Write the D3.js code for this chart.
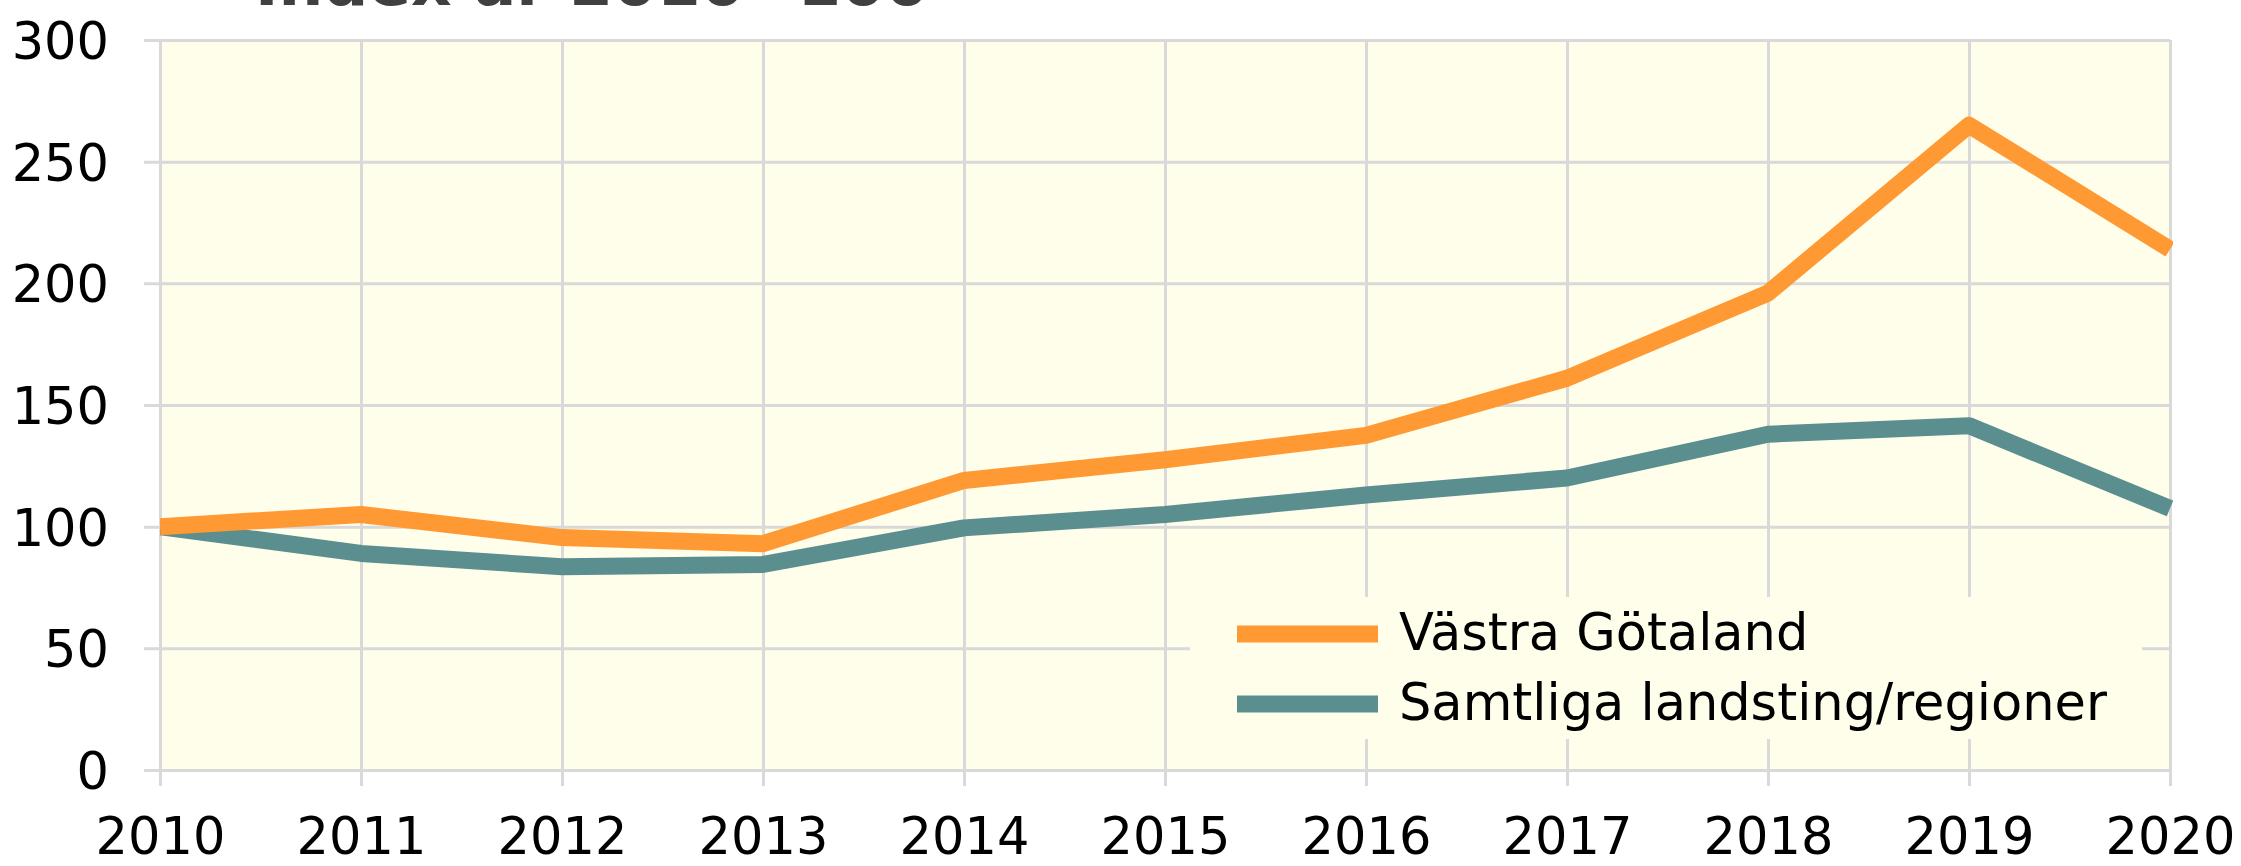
<!DOCTYPE html>
<html lang="sv">
<head>
<meta charset="utf-8">
<script src="https://cdn.jsdelivr.net/npm/d3@7"></script>
<style>
  html, body { margin: 0; padding: 0; background: #ffffff; }
  svg { display: block; }
  text { font-family: "DejaVu Sans", Verdana, sans-serif; fill: #000; }
</style>
</head>
<body>
<svg id="chart" width="2241" height="866"></svg>
<script>
// Index, år 2010 = 100
const years = [2010, 2011, 2012, 2013, 2014, 2015, 2016, 2017, 2018, 2019, 2020];
const vastraGotaland = [100, 105, 95.5, 93, 119, 127.5, 137.5, 161, 196, 265, 214];
const samtligaRegioner = [100, 89, 83.5, 84.5, 99.5, 105, 113, 120, 138, 141.5, 107.5];
const yTicks = [0, 50, 100, 150, 200, 250, 300];
const seriesNames = ["Västra Götaland", "Samtliga landsting/regioner"];
const seriesColors = ["#ff9933", "#5b8f8f"];
const title = "Index år 2010=100";

const svg = d3.select("#chart");
const W = 2241, H = 866;
const plot = { left: 160, right: 2170, top: 40, bottom: 770 };

const x = d3.scaleLinear().domain([2010, 2020]).range([plot.left, plot.right]);
const y = d3.scaleLinear().domain([0, 300]).range([plot.bottom, plot.top]);

const gridColor = "#d9d9d9";

// Title (sits above the top edge)
svg.append("text")
  .attr("x", 255).attr("y", 5)
  .attr("font-size", 63).attr("font-weight", "bold")
  .style("fill", "#404040")
  .text(title);

// Plot background
svg.append("rect")
  .attr("x", plot.left).attr("y", plot.top)
  .attr("width", plot.right - plot.left).attr("height", plot.bottom - plot.top)
  .attr("fill", "#fffeeb");

// Horizontal gridlines + y axis labels
const yAxis = d3.axisLeft(y).tickValues(yTicks)
  .tickSize(-(plot.right - plot.left)).tickSizeOuter(0).tickPadding(0)
  .tickFormat(d3.format("d"));
const gy = svg.append("g").attr("transform", `translate(${plot.left},0)`).call(yAxis);
gy.select(".domain").remove();
gy.selectAll(".tick line")
  .attr("x1", -16)
  .attr("stroke", gridColor).attr("stroke-width", 3);
gy.selectAll(".tick text")
  .attr("x", -51).attr("dy", "0.36em")
  .attr("font-size", 51).attr("font-family", null)
  .style("fill", "#000");

// Vertical gridlines + x axis labels
const xAxis = d3.axisBottom(x).tickValues(years)
  .tickSize(-(plot.bottom - plot.top)).tickSizeOuter(0).tickPadding(0)
  .tickFormat(d3.format("d"));
const gx = svg.append("g").attr("transform", `translate(0,${plot.bottom})`).call(xAxis);
gx.select(".domain").remove();
gx.selectAll(".tick line")
  .attr("y1", 16)
  .attr("stroke", gridColor).attr("stroke-width", 3);
gx.selectAll(".tick text")
  .attr("y", 84).attr("dy", 0)
  .attr("font-size", 51).attr("font-family", null)
  .style("fill", "#000");

// Legend box (covers the grid beneath it)
const legend = svg.append("g");
legend.append("rect")
  .attr("x", 1190).attr("y", 597)
  .attr("width", 952).attr("height", 142)
  .attr("fill", "#fffeeb");

// Series lines, clipped to the plot area
svg.append("clipPath").attr("id", "plotClip")
  .append("rect")
  .attr("x", plot.left).attr("y", 0)
  .attr("width", plot.right - plot.left + 3).attr("height", H);

const line = d3.line()
  .x((d, i) => x(years[i]))
  .y(d => y(d));

const series = [vastraGotaland, samtligaRegioner];
const lines = svg.append("g").attr("clip-path", "url(#plotClip)");
series.slice().reverse().forEach((vals, k) => {
  const idx = series.length - 1 - k;
  lines.append("path")
    .datum(vals)
    .attr("d", line)
    .attr("fill", "none")
    .attr("stroke", seriesColors[idx])
    .attr("stroke-width", 17)
    .attr("stroke-linejoin", "round");
});

// Legend entries
seriesNames.forEach((name, i) => {
  const cy = 634 + i * 70;
  legend.append("line")
    .attr("x1", 1237).attr("x2", 1378)
    .attr("y1", cy).attr("y2", cy)
    .attr("stroke", seriesColors[i]).attr("stroke-width", 17);
  legend.append("text")
    .attr("x", 1399).attr("y", cy + 16)
    .attr("font-size", 51)
    .text(name);
});
</script>
</body>
</html>
